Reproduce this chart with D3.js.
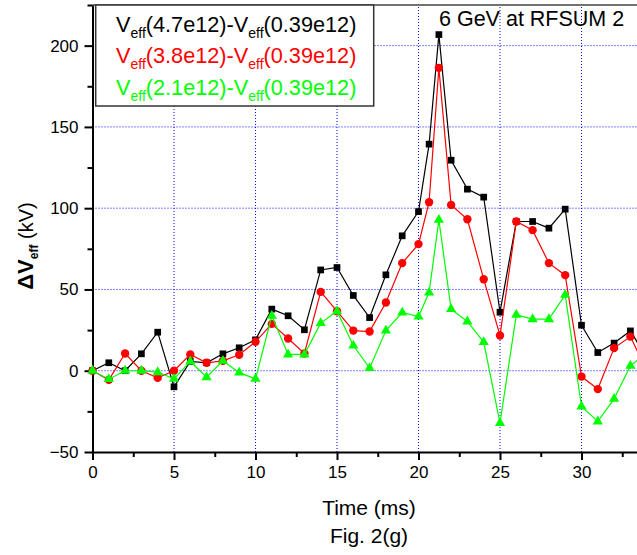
<!DOCTYPE html>
<html>
<head>
<meta charset="utf-8">
<script src="https://cdn.jsdelivr.net/npm/d3@7"></script>
<style>
body { margin: 0; background: #fff; }
svg { display: block; font-family: Arial, "Liberation Sans", sans-serif; }
</style>
</head>
<body>
<div id="chart"></div>
<script>
// time points (ms) - the two around 21 ms are off the integer grid
var times = [0,1,2,3,4,5,6,7,8,9,10,11,12,13,14,15,16,17,18,19,20,20.65,21.25,22,23,24,25,26,27,28,29,30,31,32,33,34];
var black47 = [0,4.9,0,10.4,23.7,-9.9,5.7,4.9,10.4,14.1,19,37.9,33.8,25.2,62,63.5,46.3,32.7,59,83,97.9,139.4,206.8,129.5,111.7,106.8,36,91.8,91.8,87.7,99.4,28,11.2,17,24.5,8];
var red38 = [0,-5.6,10.6,0,-4.4,0,10,4.9,6.1,9.8,17.8,28.8,19.8,10.6,48.5,36.6,24.7,24.1,42,66.2,77.9,103.7,186.3,102,93.2,56.3,21.7,91.8,86.5,66.2,58.8,-3.6,-11.3,13.9,21,0];
var green21 = [0,-5.2,0,0,-0.9,-5,5.7,-4,6.1,-1.2,-5,33.8,10,10,29.3,36.6,15.5,1.6,24.7,35.8,33.3,48.1,92.8,37.9,30.3,17.6,-32.2,34.4,31.7,31.7,46.7,-22,-31.2,-17.3,3,11];
var seriesNames = ["4.7e12", "3.8e12", "2.1e12"];
var xTicks = [0,5,10,15,20,25,30];
var yTicks = [-50,0,50,100,150,200];

var width = 637, height = 555;
var svg = d3.select("#chart").append("svg")
  .attr("width", width)
  .attr("height", height);

var x = d3.scaleLinear().domain([0, 35]).range([92.5, 92.5 + 35 * 16.3]);
var y = d3.scaleLinear().domain([-50, 225]).range([452, 5]);

// dotted blue grid
svg.append("g").selectAll("line").data(yTicks.filter(function (d) { return d > -50; })).enter()
  .append("line")
  .attr("x1", x(0)).attr("x2", width)
  .attr("y1", function (d) { return y(d); }).attr("y2", function (d) { return y(d); })
  .attr("stroke", "#0000ff").attr("stroke-width", 1).attr("stroke-dasharray", "1,2");
svg.append("g").selectAll("line").data(xTicks.filter(function (d) { return d > 0; })).enter()
  .append("line")
  .attr("y1", y(-50)).attr("y2", y(225))
  .attr("x1", function (d) { return x(d); }).attr("x2", function (d) { return x(d); })
  .attr("stroke", "#0000ff").attr("stroke-width", 1).attr("stroke-dasharray", "1,2");

// top frame
svg.append("line")
  .attr("x1", x(0)).attr("x2", width)
  .attr("y1", y(225)).attr("y2", y(225))
  .attr("stroke", "#444").attr("stroke-width", 1.5);

// axes with major + minor ticks
svg.append("g")
  .attr("transform", "translate(" + x(0) + ",0)")
  .call(d3.axisLeft(y).tickValues(yTicks).tickSize(8).tickPadding(6).tickSizeOuter(0));
svg.append("g")
  .attr("transform", "translate(" + x(0) + ",0)")
  .call(d3.axisLeft(y).tickValues([-25,25,75,125,175,225]).tickSize(5).tickFormat("").tickSizeOuter(0))
  .select(".domain").remove();
svg.append("g")
  .attr("transform", "translate(0," + y(-50) + ")")
  .call(d3.axisBottom(x).tickValues(xTicks).tickSize(8).tickPadding(6).tickSizeOuter(0));
svg.append("g")
  .attr("transform", "translate(0," + y(-50) + ")")
  .call(d3.axisBottom(x).tickValues([2.5,7.5,12.5,17.5,22.5,27.5,32.5]).tickSize(5).tickFormat("").tickSizeOuter(0))
  .select(".domain").remove();

svg.selectAll(".domain").attr("stroke", "#000").attr("stroke-width", 2);
svg.selectAll(".tick line").attr("stroke", "#000").attr("stroke-width", 2);
svg.selectAll(".tick text").attr("font-size", 17).attr("font-family", "Arial, 'Liberation Sans', sans-serif").attr("fill", "#000");

// series
var line = d3.line()
  .x(function (d) { return x(d.t); })
  .y(function (d) { return y(d.v); });

function series(values, color, symbol, size) {
  var data = times.map(function (t, i) { return { t: t, v: values[i] }; });
  svg.append("path").datum(data)
    .attr("fill", "none")
    .attr("stroke", color)
    .attr("stroke-width", 1.2)
    .attr("d", line);
  svg.append("g").selectAll("path").data(data).enter()
    .append("path")
    .attr("transform", function (d) { return "translate(" + x(d.t) + "," + y(d.v) + ")"; })
    .attr("d", d3.symbol().type(symbol).size(size))
    .attr("fill", color);
}
series(black47, "#000000", d3.symbolSquare, 45);
series(red38, "#ff0000", d3.symbolCircle, 55);
series(green21, "#00ff00", d3.symbolTriangle, 45);

// legend
var colors = ["#000000", "#ff0000", "#00ff00"];
svg.append("rect")
  .attr("x", 95.7).attr("y", 5).attr("width", 278).attr("height", 101)
  .attr("fill", "#fff").attr("stroke", "#333").attr("stroke-width", 1.5);
seriesNames.forEach(function (n, i) {
  var t = svg.append("text")
    .attr("x", 116).attr("y", 31.5 + i * 31.7)
    .attr("font-size", 21.7).attr("fill", colors[i]);
  t.append("tspan").text("V");
  t.append("tspan").attr("dy", 6).attr("font-size", 14).text("eff");
  t.append("tspan").attr("dy", -6).text("(" + n + ")-V");
  t.append("tspan").attr("dy", 6).attr("font-size", 14).text("eff");
  t.append("tspan").attr("dy", -6).text("(0.39e12)");
});

svg.append("text")
  .attr("x", 439).attr("y", 26)
  .attr("font-size", 21.5)
  .text("6 GeV at RFSUM 2");

// axis titles
var yl = svg.append("text")
  .attr("transform", "translate(33,246) rotate(-90)")
  .attr("text-anchor", "middle")
  .attr("font-size", 20);
yl.append("tspan").attr("font-weight", "bold").attr("font-size", 22).text("\u0394V");
yl.append("tspan").attr("font-weight", "bold").attr("font-size", 12).attr("dy", 5).text("eff");
yl.append("tspan").attr("dy", -5).text(" (kV)");

svg.append("text")
  .attr("x", 369).attr("y", 515)
  .attr("text-anchor", "middle")
  .attr("font-size", 21)
  .text("Time (ms)");
svg.append("text")
  .attr("x", 369).attr("y", 543)
  .attr("text-anchor", "middle")
  .attr("font-size", 21)
  .text("Fig. 2(g)");
</script>
</body>
</html>
